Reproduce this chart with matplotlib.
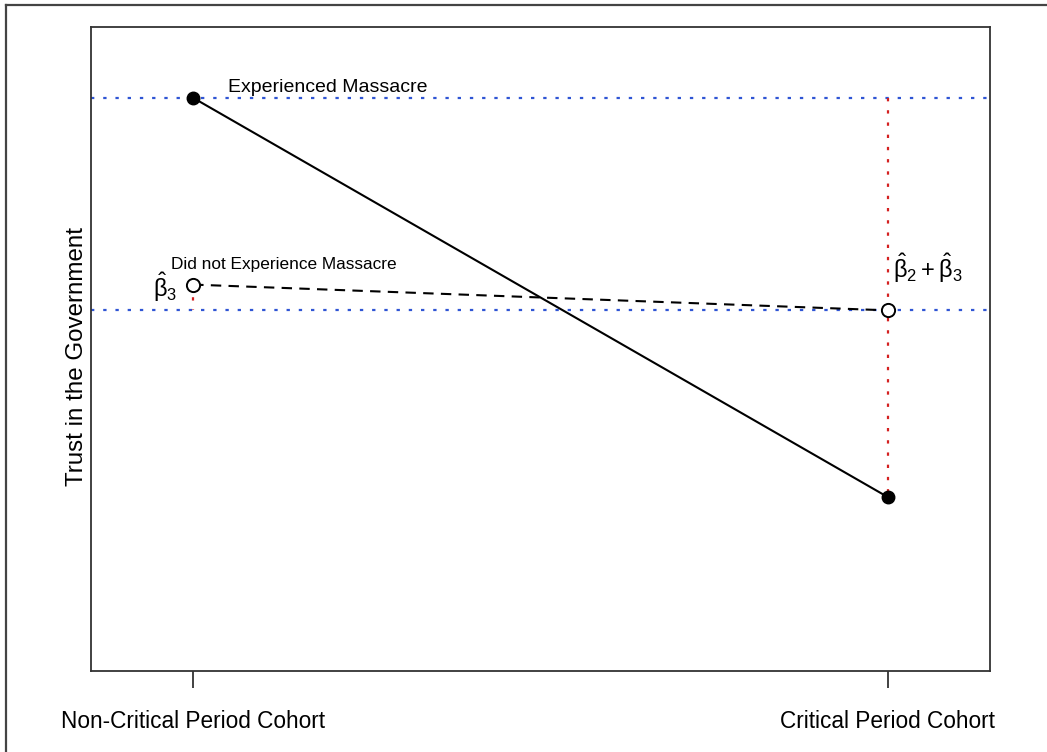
import matplotlib
matplotlib.use("Agg")
import matplotlib.pyplot as plt
from matplotlib.lines import Line2D

plt.rcParams['font.family'] = ['Liberation Sans', 'DejaVu Sans']
plt.rcParams['mathtext.fontset'] = 'custom'
plt.rcParams['mathtext.rm'] = 'Liberation Sans'
plt.rcParams['mathtext.it'] = 'Liberation Sans'
plt.rcParams['mathtext.bf'] = 'Liberation Sans:bold'

# Cohort positions and labels
cohort_x = [1, 2]
cohort_labels = ["Non-Critical Period Cohort", "Critical Period Cohort"]

# Predicted trust for each group
experienced = [0.89, 0.27]
not_experienced = [0.60, 0.56]

fig = plt.figure(figsize=(10.47, 7.52), dpi=100)
ax = fig.add_axes([91 / 1047, 1 - 671 / 752, (990 - 91) / 1047, (671 - 27) / 752])

blue = "#2f55d4"
red = "#d42020"
dots = (0, (1.5, 4.0))

# Reference levels
ax.axhline(experienced[0], color=blue, lw=1.6, ls=dots, zorder=1)
ax.axhline(not_experienced[1], color=blue, lw=1.6, ls=dots, zorder=1)

# Differences (coefficients)
ax.plot([cohort_x[1], cohort_x[1]], [experienced[0], experienced[1]],
        color=red, lw=1.6, ls=dots, zorder=1)
ax.plot([cohort_x[0], cohort_x[0]], [not_experienced[0], not_experienced[1]],
        color=red, lw=1.6, ls=dots, zorder=1)

# Group lines
ax.plot(cohort_x, experienced, color="black", lw=1.5, zorder=2)
ax.plot(cohort_x, not_experienced, color="black", lw=1.5, ls=(0, (5, 3.5)), zorder=2)

ax.plot(cohort_x, experienced, "o", color="black", ms=9, zorder=3)
ax.plot(cohort_x, not_experienced, "o", mfc="white", mec="black", mew=1.4, ms=9.5, zorder=3)

ax.text(1.05, experienced[0] + 0.016, "Experienced Massacre", fontsize=14,
        ha="left", va="center")
ax.text(1.13, not_experienced[0] + 0.031, "Did not Experience Massacre", fontsize=12.4,
        ha="center", va="center")
ax.text(0.977, not_experienced[0] - 0.004, r"$\hat{\beta}_3$", fontsize=17,
        ha="right", va="center")
ax.text(2.007, 0.625, r"$\hat{\beta}_2 + \hat{\beta}_3$", fontsize=17,
        ha="left", va="center")

ax.set_xlim(0.853, 2.147)
ax.set_ylim(0, 1)
ax.set_xticks(cohort_x)
ax.set_xticklabels(cohort_labels, fontsize=16.3)
ax.tick_params(axis="x", length=12, width=1.3, pad=16, color="#333333")
ax.set_yticks([])
ax.set_ylabel("Trust in the Government", fontsize=17.4)
ax.yaxis.set_label_coords(-0.003, 0.489)
for s in ax.spines.values():
    s.set_linewidth(1.3)
    s.set_color("#333333")

# Outer frame (left and top edges)
x0, y0 = 6 / 1047, 1 - 5 / 752
fig.add_artist(Line2D([x0, x0], [0, y0], transform=fig.transFigure, color="#444444", lw=1.6))
fig.add_artist(Line2D([x0, 1], [y0, y0], transform=fig.transFigure, color="#444444", lw=1.6))

fig.savefig("out.png", dpi=100)
